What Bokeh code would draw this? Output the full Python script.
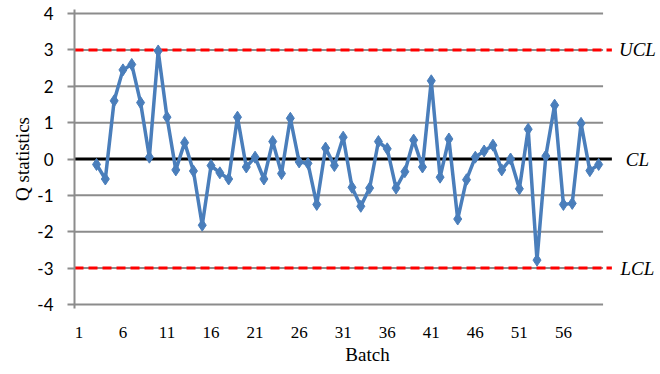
from bokeh.plotting import figure
from bokeh.models import Range1d, FixedTicker, ColumnDataSource, PrintfTickFormatter
from bokeh.core.properties import value
from bokeh.embed import file_html
from bokeh.resources import INLINE

# Q statistic per batch (batches 3..60)
batches = list(range(3, 61))
q_values = [
    -0.15, -0.55, 1.60, 2.45, 2.60, 1.55, 0.05, 2.97, 1.15, -0.30,
    0.45, -0.33, -1.82, -0.18, -0.38, -0.55, 1.15, -0.22, 0.05, -0.55,
    0.48, -0.40, 1.12, -0.08, -0.12, -1.25, 0.30, -0.18, 0.60, -0.78,
    -1.30, -0.80, 0.48, 0.28, -0.80, -0.35, 0.52, -0.22, 2.15, -0.50,
    0.55, -1.65, -0.57, 0.05, 0.22, 0.38, -0.30, 0.00, -0.82, 0.82,
    -2.78, 0.08, 1.48, -1.25, -1.22, 0.98, -0.32, -0.15,
]

# control limits
limit_names = ["UCL", "CL", "LCL"]
limit_values = [3, 0, -3]

x_tick_labels = [1, 6, 11, 16, 21, 26, 31, 36, 41, 46, 51, 56]
y_tick_labels = [-4, -3, -2, -1, 0, 1, 2, 3, 4]

N_BATCH = 60
X_LEFT = 0.5
X_GRID_END = N_BATCH + 0.5
X_LIMIT_END = 61.5
X_LABEL = 64.4

p = figure(
    width=660, height=374,
    x_range=Range1d(X_LEFT, 67.02),
    y_range=Range1d(-4.11, 4.11),
    output_backend="svg", toolbar_location=None,
    min_border_left=74, min_border_right=0,
    min_border_top=9, min_border_bottom=66,
)
p.outline_line_color = None
p.xgrid.visible = False
p.ygrid.visible = False
p.background_fill_color = "white"
p.border_fill_color = "white"

# horizontal gridlines over the category span
grid_src = ColumnDataSource(dict(y=y_tick_labels))
p.segment(x0=X_LEFT, x1=X_GRID_END, y0="y", y1="y", source=grid_src,
          line_color="#8c8c8c", line_width=2)

# control limit lines
lim_src = ColumnDataSource(dict(y=limit_values, name=limit_names))
p.segment(x0=X_LEFT, x1=X_LIMIT_END, y0=limit_values[0], y1=limit_values[0],
          line_color="#ff0000", line_width=3, line_dash="9 5")
p.segment(x0=X_LEFT, x1=X_LIMIT_END, y0=limit_values[2], y1=limit_values[2],
          line_color="#ff0000", line_width=3, line_dash="9 5")
p.segment(x0=X_LEFT - 0.25, x1=X_LIMIT_END, y0=limit_values[1], y1=limit_values[1],
          line_color="black", line_width=3)

p.text(x=X_LABEL, y="y", text="name", source=lim_src,
       text_font=value("Liberation Serif"), text_font_style="italic",
       text_font_size="19px", text_align="center", text_baseline="middle",
       text_color="black")

# Q statistic series
src = ColumnDataSource(dict(batch=batches, q=q_values))
p.line("batch", "q", source=src, line_color="#4a7ebb", line_width=3.5)
p.scatter("batch", "q", source=src, marker="diamond", size=12,
          fill_color="#4a7ebb", line_color="#4a7ebb")

# axes
p.xaxis.ticker = FixedTicker(ticks=x_tick_labels)
p.xaxis.axis_line_color = None
p.xaxis.major_tick_line_color = None
p.xaxis.minor_tick_line_color = None
p.xaxis.major_label_text_font = "Liberation Serif"
p.xaxis.major_label_text_font_size = "17px"
p.xaxis.major_label_text_color = "black"
p.xaxis.major_label_standoff = 12
p.xaxis.axis_label = "Batch"
p.xaxis.axis_label_text_font = "Liberation Serif"
p.xaxis.axis_label_text_font_size = "19px"
p.xaxis.axis_label_text_font_style = "normal"
p.xaxis.axis_label_text_color = "black"
p.xaxis.axis_label_standoff = 3

p.yaxis.ticker = FixedTicker(ticks=y_tick_labels)
p.yaxis.formatter = PrintfTickFormatter(format="%d")
p.yaxis.axis_line_color = "#8c8c8c"
p.yaxis.axis_line_width = 2
p.yaxis.major_tick_line_color = "#8c8c8c"
p.yaxis.major_tick_line_width = 2
p.yaxis.major_tick_out = 7
p.yaxis.major_tick_in = 0
p.yaxis.minor_tick_line_color = None
p.yaxis.major_label_text_font = "Lato"
p.yaxis.major_label_text_font_size = "17px"
p.yaxis.major_label_text_color = "black"
p.yaxis.major_label_standoff = 14
p.yaxis.axis_label = "Q statistics"
p.yaxis.axis_label_text_font = "Liberation Serif"
p.yaxis.axis_label_text_font_size = "19px"
p.yaxis.axis_label_text_font_style = "normal"
p.yaxis.axis_label_text_color = "black"
p.yaxis.axis_label_standoff = 1

open("out.html", "w").write(file_html(p, INLINE))
